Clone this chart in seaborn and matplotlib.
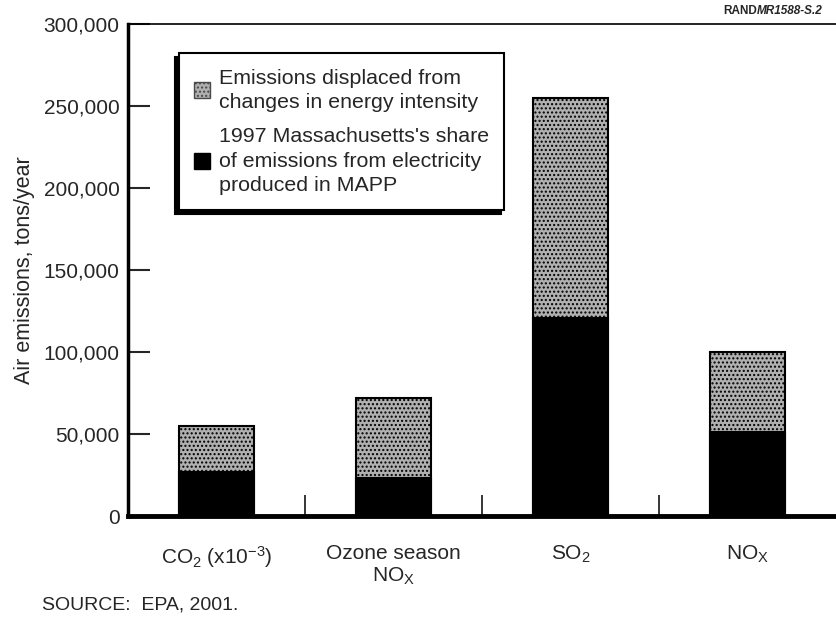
import matplotlib
matplotlib.use("Agg")
import matplotlib.pyplot as plt
import matplotlib.ticker as mticker
from matplotlib.patches import Patch
import seaborn as sns

# values (tons/year)
categories = ["CO$_2$ (x10$^{-3}$)", "Ozone season\nNO$_X$", "SO$_2$", "NO$_X$"]
ma_share = [27000, 23000, 121000, 51000]
displaced = [28000, 49000, 134000, 49000]
totals = [a + b for a, b in zip(ma_share, displaced)]
y_ticks = [0, 50000, 100000, 150000, 200000, 250000, 300000]

legend_labels = [
    "Emissions displaced from\nchanges in energy intensity",
    "1997 Massachusetts's share\nof emissions from electricity\nproduced in MAPP",
]

sns.set_style("white")
plt.rcParams["font.family"] = ["Liberation Sans", "DejaVu Sans"]
plt.rcParams["mathtext.default"] = "regular"
plt.rcParams["hatch.linewidth"] = 1.0
plt.rcParams["hatch.color"] = "#4a4a4a"

gray = "#b0b0b0"

fig = plt.figure(figsize=(8.36, 6.21), dpi=100)
ax = fig.add_axes([0.153, 0.169, 0.847, 0.792])

sns.barplot(x=categories, y=totals, color=gray, width=0.42,
            edgecolor="black", linewidth=1.5, hatch="....", saturation=1, ax=ax)
sns.barplot(x=categories, y=ma_share, color="black", width=0.42,
            edgecolor="black", linewidth=1.5, saturation=1, ax=ax)

ax.set_xlim(-0.5, 3.5)
ax.set_ylim(0, 300000)
ax.set_yticks(y_ticks)
ax.yaxis.set_major_formatter(mticker.StrMethodFormatter("{x:,.0f}"))
ax.set_xticks(range(len(categories)))
ax.set_xticklabels(categories, fontsize=15)
ax.set_xticks([0.5, 1.5, 2.5], minor=True)
ax.tick_params(axis="x", which="major", length=0, pad=20)
ax.tick_params(axis="x", which="minor", direction="in", length=15, width=1.3, bottom=True)
ax.tick_params(axis="y", direction="in", length=16, width=1.5, labelsize=15, pad=6, left=True)
ax.set_ylabel("Air emissions, tons/year", fontsize=15.5, labelpad=6)
ax.set_xlabel("")

for side in ["left", "bottom", "top"]:
    ax.spines[side].set_visible(True)
    ax.spines[side].set_color("black")
ax.spines["left"].set_linewidth(2.5)
ax.spines["bottom"].set_linewidth(3.5)
ax.spines["top"].set_linewidth(1.2)
ax.spines["right"].set_visible(False)

handles = [Patch(facecolor=gray, edgecolor="#4a4a4a", hatch="...."),
           Patch(facecolor="black", edgecolor="black")]
leg = ax.legend(handles, legend_labels, loc="upper left", bbox_to_anchor=(0.072, 0.941),
                fontsize=15.4, frameon=True, fancybox=False,
                shadow={"color": "black", "alpha": 1, "ox": -2.5, "oy": -2.5},
                handlelength=0.75, handleheight=0.75, handletextpad=0.4,
                labelspacing=0.72, borderpad=0.72, borderaxespad=0, edgecolor="black")
leg.get_frame().set_linewidth(1.5)
for t in leg.get_texts():
    t.set_linespacing(1.35)

fig.text(0.05, 0.026, "SOURCE:  EPA, 2001.", fontsize=14, ha="left", va="center")
fig.text(0.905, 0.983, "RAND", fontsize=8.5, fontweight="bold", ha="right", va="center")
fig.text(0.905, 0.983, "MR1588-S.2", fontsize=8.5, style="italic", fontweight="bold",
         ha="left", va="center")

fig.savefig("out.png", dpi=100)
